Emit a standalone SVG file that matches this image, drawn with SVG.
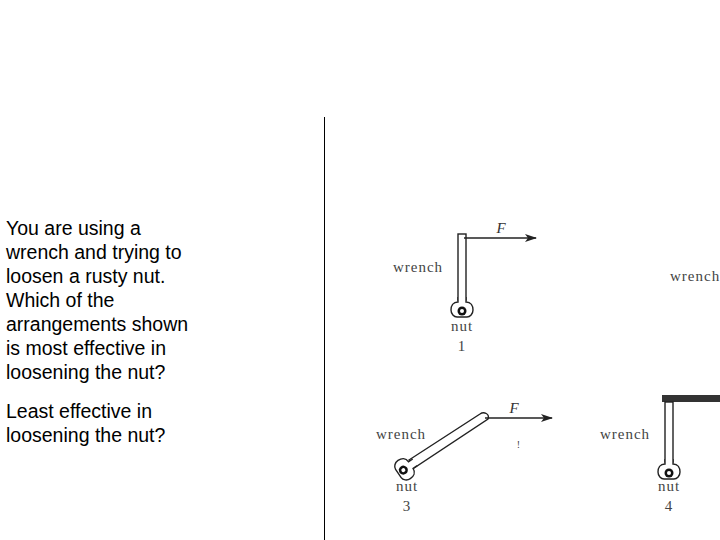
<svg xmlns="http://www.w3.org/2000/svg" width="720" height="540" viewBox="0 0 720 540">
<style>
.q{font-family:"Liberation Sans",Arial,sans-serif;font-size:19.5px;fill:#000}
.l{font-family:"Liberation Serif","Times New Roman",serif;font-size:15px;letter-spacing:1px;fill:#444;text-anchor:middle}
.f{font-family:"Liberation Serif",serif;font-size:15px;font-style:italic;fill:#333;text-anchor:middle}
.w{fill:#fff;stroke:#222;stroke-width:1.4}
.a{stroke:#222;stroke-width:1.4;fill:none}
</style>
<defs><marker id="ah" markerWidth="12" markerHeight="8" refX="11" refY="4" orient="auto" markerUnits="userSpaceOnUse"><path d="M0,0 L12,4 L0,8 L3,4 Z" fill="#222"/></marker>
<g id="head"><path class="w" d="M-4,-12 L-4,-7 C-9,-7 -11,-3 -11,1 C-11,5 -8,8 -5,8 L5,8 C8,8 11,5 11,1 C11,-3 9,-7 4,-7 L4,-12"/><circle cx="0" cy="2" r="4.5" fill="#111"/><circle cx="0" cy="2" r="2" fill="#fff"/></g></defs>
<rect width="720" height="540" fill="#fff"/>
<line x1="324.5" y1="117" x2="324.5" y2="540" stroke="#000" stroke-width="1"/>
<g id="question">
<text class="q" x="6" y="235">You are using a</text>
<text class="q" x="6" y="259">wrench and trying to</text>
<text class="q" x="6" y="283">loosen a rusty nut.</text>
<text class="q" x="6" y="307">Which of the</text>
<text class="q" x="6" y="331">arrangements shown</text>
<text class="q" x="6" y="355">is most effective in</text>
<text class="q" x="6" y="379">loosening the nut?</text>
<text class="q" x="6" y="418">Least effective in</text>
<text class="q" x="6" y="442">loosening the nut?</text>
</g>
<g id="w1">
<rect class="w" x="458" y="234" width="8" height="66"/>
<use href="#head" x="462" y="309"/>
<text class="l" x="418" y="272">wrench</text>
<text class="l" x="462" y="331">nut</text>
<text class="l" x="462" y="351">1</text>
<text class="f" x="501" y="233">F</text>
</g>
<g id="w2"><text class="l" x="670" y="281" style="text-anchor:start">wrench</text></g>
<g id="w3">
<path class="w" d="M409,460 L480,414 C484,411 490,414 488,419 L414,468 Z"/>
<use href="#head" x="405" y="469" transform="rotate(56 405 469)"/>
<text class="l" x="401" y="439">wrench</text>
<text class="l" x="407" y="491">nut</text>
<text class="l" x="407" y="511">3</text>
<text class="f" x="514" y="413">F</text>
<text class="l" x="519" y="448" style="font-size:10px">!</text>
</g>
<g id="w4">
<rect x="662" y="395" width="58" height="7" fill="#333"/>
<rect class="w" x="665" y="402" width="8" height="60"/>
<use href="#head" x="669" y="471"/>
<text class="l" x="625" y="439">wrench</text>
<text class="l" x="669" y="491">nut</text>
<text class="l" x="669" y="511">4</text>
</g>
<g id="connectors">
<line class="a" x1="464" y1="238" x2="536" y2="238" marker-end="url(#ah)"/>
<line class="a" x1="485" y1="418" x2="552" y2="418" marker-end="url(#ah)"/>
</g>
</svg>
